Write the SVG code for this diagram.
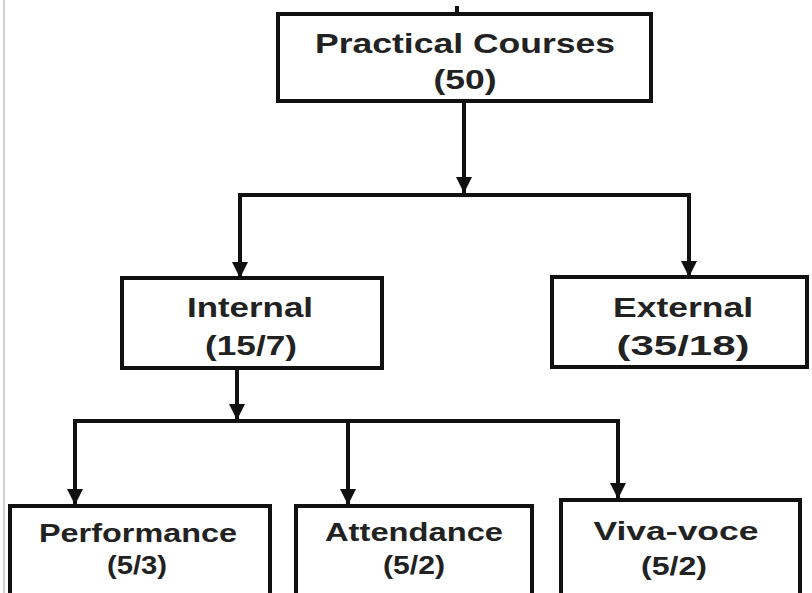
<svg xmlns="http://www.w3.org/2000/svg" width="812" height="593" viewBox="0 0 812 593">
<style>
.box{fill:#fff;stroke:#111;stroke-width:4}
.t{font-family:"Liberation Sans",Arial,sans-serif;font-weight:bold;fill:#222;text-anchor:middle}
.c{stroke:#111;stroke-width:4;fill:none}
</style>
<defs>
<marker id="ah" markerWidth="4" markerHeight="4" refX="4" refY="2" orient="auto" markerUnits="strokeWidth">
<path d="M0,0 L4,2 L0,4 Z" fill="#111"/>
</marker>
</defs>
<rect width="812" height="593" fill="#fff"/>
<line x1="4" y1="0" x2="4" y2="593" stroke="#d0d0d0" stroke-width="2"/>
<g id="connectors">
<line class="c" x1="457" y1="6" x2="457" y2="14" stroke-width="3"/>
<line class="c" x1="464" y1="101" x2="464" y2="193" marker-end="url(#ah)"/>
<polyline class="c" points="240,278 240,195 689,195 689,277" marker-end="url(#ah)"/>
<line class="c" x1="240" y1="197" x2="240" y2="278" marker-end="url(#ah)"/>
<line class="c" x1="237" y1="368" x2="237" y2="420" marker-end="url(#ah)"/>
<polyline class="c" points="75,505 75,421 618,421 618,499" marker-end="url(#ah)"/>
<line class="c" x1="75" y1="423" x2="75" y2="505" marker-end="url(#ah)"/>
<line class="c" x1="348" y1="421" x2="348" y2="505" marker-end="url(#ah)"/>
</g>
<g id="practical">
<rect class="box" x="278" y="14" width="373" height="87"/>
<text class="t" x="465" y="53" font-size="28" textLength="300" lengthAdjust="spacingAndGlyphs">Practical Courses</text>
<text class="t" x="465" y="89" font-size="28" textLength="63" lengthAdjust="spacingAndGlyphs">(50)</text>
</g>
<g id="internal">
<rect class="box" x="122" y="278" width="260" height="90"/>
<text class="t" x="250" y="317" font-size="27" textLength="126" lengthAdjust="spacingAndGlyphs">Internal</text>
<text class="t" x="251" y="355" font-size="27" textLength="92" lengthAdjust="spacingAndGlyphs">(15/7)</text>
</g>
<g id="external">
<rect class="box" x="552" y="277" width="255" height="90"/>
<text class="t" x="683" y="317" font-size="27" textLength="140" lengthAdjust="spacingAndGlyphs">External</text>
<text class="t" x="683" y="355" font-size="27" textLength="133" lengthAdjust="spacingAndGlyphs">(35/18)</text>
</g>
<g id="performance">
<rect class="box" x="10" y="506" width="260" height="95"/>
<text class="t" x="138" y="542" font-size="26" textLength="198" lengthAdjust="spacingAndGlyphs">Performance</text>
<text class="t" x="137" y="574" font-size="26" textLength="60" lengthAdjust="spacingAndGlyphs">(5/3)</text>
</g>
<g id="attendance">
<rect class="box" x="296" y="506" width="236" height="95"/>
<text class="t" x="414" y="541" font-size="26" textLength="178" lengthAdjust="spacingAndGlyphs">Attendance</text>
<text class="t" x="414" y="574" font-size="26" textLength="62" lengthAdjust="spacingAndGlyphs">(5/2)</text>
</g>
<g id="vivavoce">
<rect class="box" x="561" y="500" width="239" height="101"/>
<text class="t" x="676" y="540" font-size="26" textLength="165" lengthAdjust="spacingAndGlyphs">Viva-voce</text>
<text class="t" x="674" y="575" font-size="26" textLength="66" lengthAdjust="spacingAndGlyphs">(5/2)</text>
</g>
</svg>
